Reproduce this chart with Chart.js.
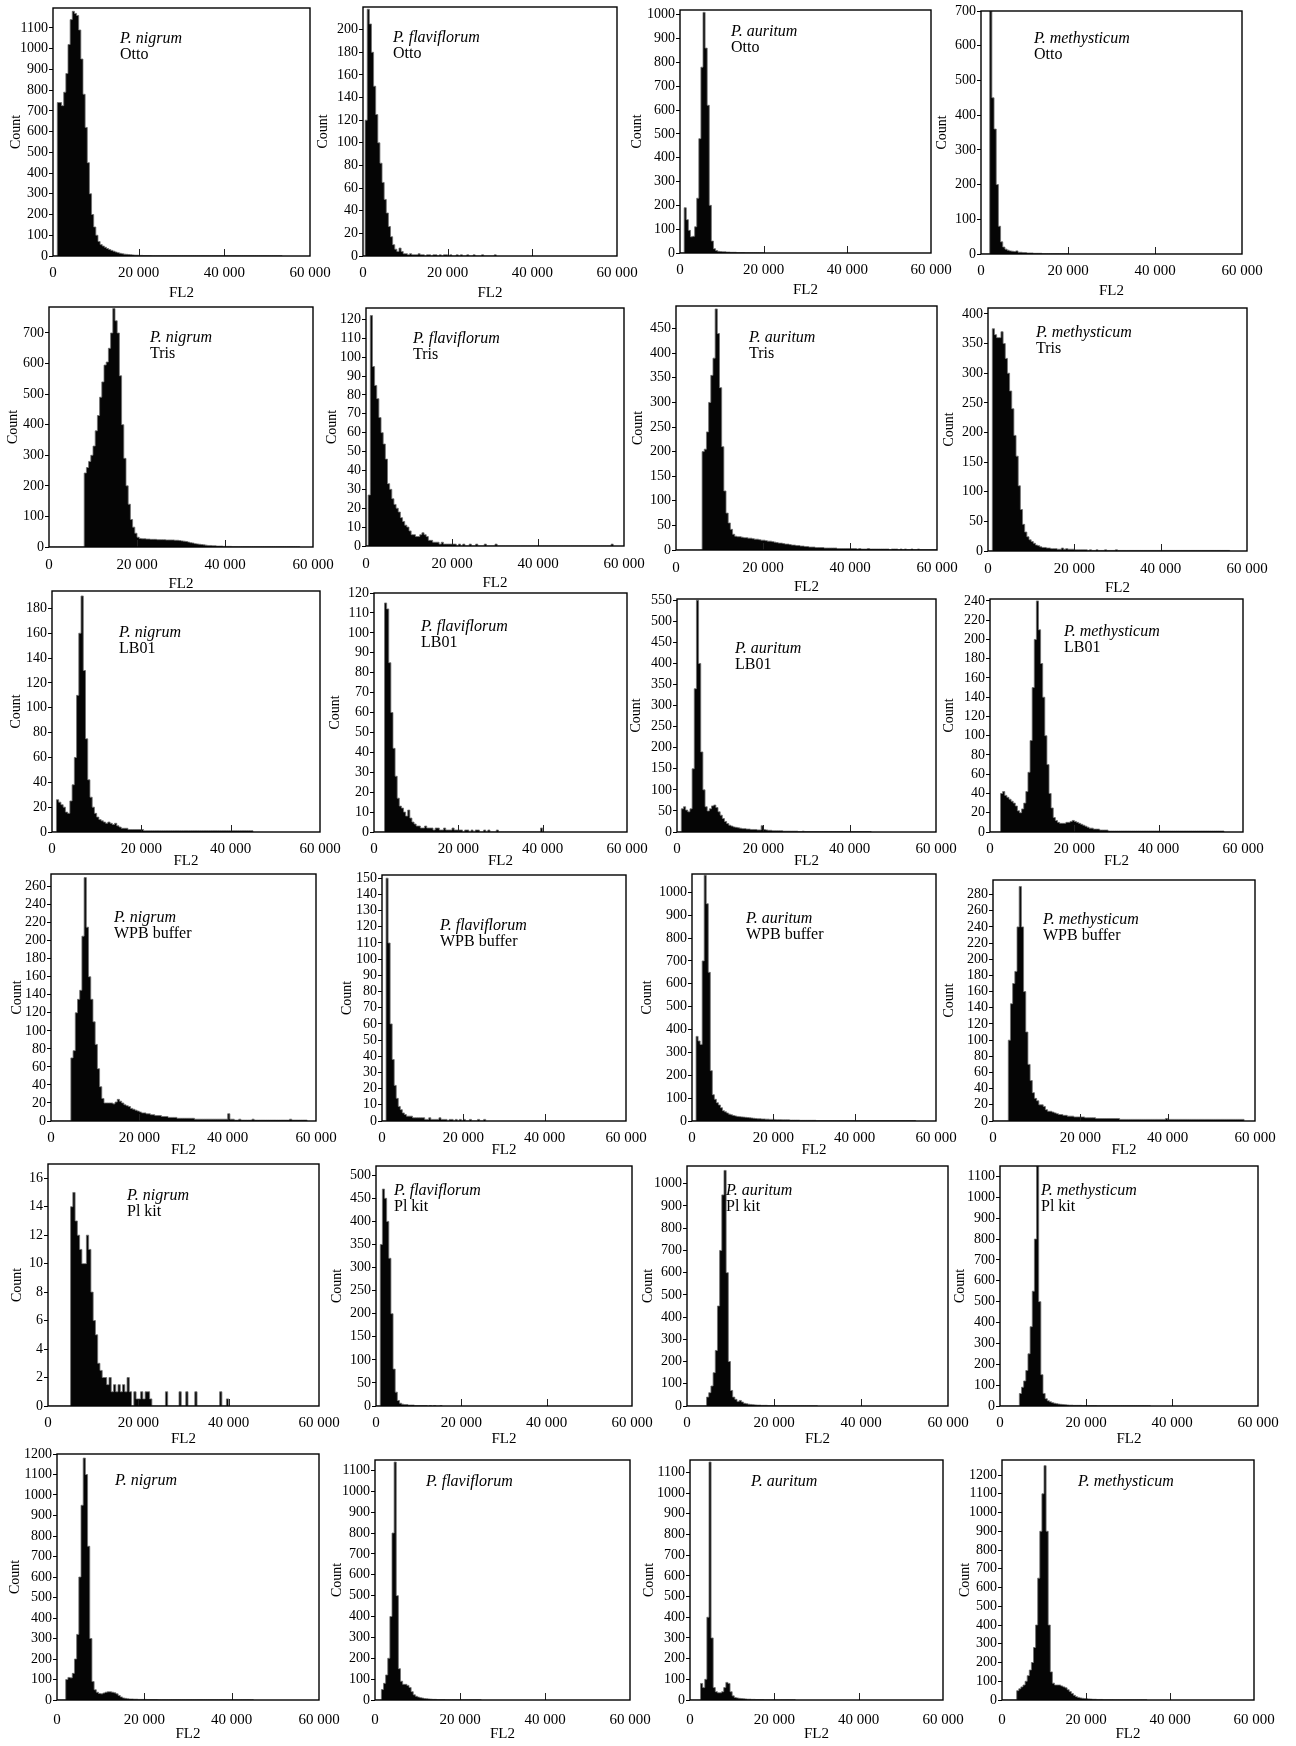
<!DOCTYPE html>
<html><head><meta charset="utf-8">
<script src="https://cdn.jsdelivr.net/npm/chart.js@4/dist/chart.umd.min.js"></script>
<style>
html,body{margin:0;padding:0;background:#fff;}
#wrap{position:relative;width:1296px;height:1746px;overflow:hidden;background:#fff;}
canvas{position:absolute;}
</style></head><body><div id="wrap"></div>
<script>
// ---------- data ----------
const BIN = 500; // FL2 channel width of each histogram bin
const species = ['P. nigrum', 'P. flaviflorum', 'P. auritum', 'P. methysticum'];
const buffers = ['Otto', 'Tris', 'LB01', 'WPB buffer', 'Pl kit', ''];
const xTickValues = [0, 20000, 40000, 60000];
const xTickLabels = ['0', '20 000', '40 000', '60 000'];
const yAxisMax   = [1196, 220, 1020, 700,  785, 126, 496, 410,  194, 120, 553, 242,  274, 152, 1080, 298,  17, 520, 1080, 1150,  1200, 1150, 1160, 1280];
const yTickStep  = [100, 20, 100, 100,  100, 10, 50, 50,  20, 10, 50, 20,  20, 10, 100, 20,  2, 50, 100, 100,  100, 100, 100, 100];
const yTickTop   = [1100, 200, 1000, 700,  700, 120, 450, 400,  180, 120, 550, 240,  260, 150, 1000, 280,  16, 500, 1000, 1100,  1200, 1100, 1100, 1200];

// counts per 500-unit FL2 bin, starting at FL2 = 0
const nigrumOtto = [0,0,740,740,725,790,880,1020,1140,1180,1170,1160,1090,950,780,620,450,300,200,140,100,70,55,48,42,36,31,27,23,19,16,13,11,9,8,7,6,5,4,4,3,3,2,2,2,2,1,1,1,1,1,1,1,1,1,1,1,1,1,1,1,1,1,1,1,1,1,1,1,1,1,1,1,1,1,1,1,1,1,1,1,1,1,1,1,1,1,1,1,1,1,1,1,1,1,1,1,1,1,1,1,1,1,1,1,1,1,0];
const flaviflorumOtto = [0,120,218,205,180,150,125,100,82,65,50,38,26,17,10,6,4,7,4,2,2,1,2,1,1,1,2,1,1,0,1,1,0,1,1,0,1,0,1,1,0,1,0,0,1,0,1,0,0,1,0,0,1,0,0,0,1,0,0,0,0,0,1,0];
const auritumOtto = [0,0,190,140,95,68,70,110,230,480,780,1010,860,620,200,50,18,10,7,6,5,5,4,4,3,3,3,2,2,2,2,1,1,1,1,1,1,1,1,1,0];
const methysticumOtto = [0,0,0,0,700,450,360,200,80,35,20,14,11,9,8,7,9,5,5,4,4,3,3,3,2,2,2,2,1,1,1,1,1,1,1,1,1,1,1,1,0];

const nigrumTris = [0,0,0,0,0,0,0,0,0,0,0,0,0,0,0,0,242,260,280,300,330,380,430,490,540,595,605,650,700,780,740,700,560,400,290,200,140,90,65,45,32,28,27,27,26,26,25,25,25,24,24,24,24,23,23,23,23,22,22,21,20,19,18,16,14,13,11,10,9,8,7,6,5,5,4,4,3,3,3,2,2,2,2,1,1,1,1,1,1,1,1,1,1,1,1,1,1,1,1,1,1,1,1,1,1,1,1,1,1,1,1,1,1,1,0];
const flaviflorumTris = [0,27,122,95,85,78,68,60,54,46,33,30,25,22,20,18,15,13,11,10,8,6,6,5,5,6,7,6,5,3,3,2,2,2,1,2,1,1,1,1,1,1,0,1,0,1,0,0,1,0,0,1,0,0,0,1,0,0,0,0,1,0,0,0,0,0,0,0,0,0,0,0,0,0,0,0,0,0,0,0,0,0,0,0,0,0,0,0,0,0,0,0,0,0,0,0,0,0,0,0,0,0,0,0,0,0,0,0,0,0,0,0,0,0,1,0];
const auritumTris = [0,0,0,0,0,0,0,0,0,0,0,0,200,205,240,300,355,390,490,440,330,210,120,75,55,42,32,28,27,27,26,25,25,24,24,23,22,22,21,20,20,19,18,18,17,16,15,14,14,13,12,12,11,10,10,9,9,8,8,7,7,6,6,6,5,5,5,5,4,4,4,4,4,4,3,3,3,3,3,3,3,3,3,2,3,2,2,2,3,2,2,2,2,2,2,2,2,2,1,2,2,2,1,2,1,2,1,1,2,1,1,2,1,1,1,1,1,1,1,1,0];
const methysticumTris = [0,0,375,365,360,360,370,350,325,300,270,240,195,160,110,70,45,32,24,19,16,13,10,9,7,6,6,5,5,4,4,4,3,3,5,3,4,3,3,3,2,2,2,2,2,2,1,2,1,1,2,1,1,1,2,1,1,1,1,2,1,1,1,1,1,1,1,1,1,1,1,1,1,1,1,1,1,1,1,1,1,1,1,1,1,1,1,1,1,1,1,1,1,1,1,1,1,1,1,1,1,1,1,1,1,1,1,1,1,1,1,1,0];

const nigrumLB01 = [0,0,26,24,22,20,16,15,25,38,60,110,160,190,130,75,42,28,20,15,12,10,9,8,7,8,7,6,7,5,4,3,3,3,2,2,2,2,2,2,2,1,1,1,1,1,1,1,1,1,1,1,1,1,1,1,1,1,1,1,1,1,1,1,1,1,1,1,1,1,1,1,1,1,1,1,1,1,1,1,1,1,1,1,1,1,1,1,1,1,0];
const flaviflorumLB01 = [0,0,0,0,0,115,112,85,60,42,28,17,13,12,10,8,11,7,5,4,3,3,2,2,3,2,2,2,1,2,2,1,1,2,1,1,1,2,1,1,1,1,0,1,1,0,1,0,1,1,0,0,1,0,1,0,0,0,1,0,0,0,0,0,0,0,0,0,0,0,0,0,0,0,0,0,0,0,0,2,0];
const auritumLB01 = [0,0,55,60,52,48,55,150,340,550,400,190,100,60,50,55,62,64,58,48,40,32,25,20,16,14,12,11,10,9,8,8,7,7,6,6,6,5,5,15,6,5,4,4,3,3,3,3,3,2,2,2,2,2,2,2,1,1,2,1,1,1,1,1,1,1,1,1,1,1,1,1,1,1,1,1,1,1,1,1,1,1,1,1,1,1,1,1,1,1,0];
const methysticumLB01 = [0,0,0,0,0,40,42,38,36,34,32,30,27,22,20,24,30,42,62,95,150,200,240,210,175,140,100,70,40,25,15,12,10,9,9,9,10,10,11,12,11,10,9,8,7,6,5,4,4,3,3,3,2,2,2,2,1,1,1,1,1,1,1,1,1,1,1,1,1,1,1,1,1,1,1,1,1,1,1,1,1,1,1,1,1,1,1,1,1,1,1,1,1,1,1,1,1,1,1,1,1,1,1,1,1,1,1,1,1,1,1,0];

const nigrumWPB = [0,0,0,0,0,0,0,0,0,70,78,120,135,145,205,270,215,160,135,110,85,58,38,25,20,20,20,20,19,21,24,22,20,18,17,16,14,13,12,11,10,9,9,8,8,7,7,6,6,6,5,5,5,4,4,4,4,3,3,3,3,3,3,3,3,2,2,2,2,2,2,2,2,2,2,2,2,2,2,2,8,2,2,1,1,2,1,1,1,1,1,2,1,1,1,1,1,1,1,1,1,1,1,1,1,1,1,1,2,1,1,1,1,1,1,1,0];
const flaviflorumWPB = [0,0,150,110,60,38,22,14,9,7,5,4,3,3,3,2,2,2,2,2,2,1,1,2,1,1,1,1,2,1,1,1,0,1,1,0,1,0,1,0,1,0,0,1,0,0,0,1,0,0,1,0];
const auritumWPB = [0,0,370,350,335,700,1075,950,650,220,115,95,80,70,58,45,40,35,30,27,24,22,20,19,18,17,16,15,14,13,12,11,10,10,9,9,8,8,7,7,7,6,6,6,5,5,5,5,4,4,4,4,4,3,3,3,3,3,3,3,3,2,2,2,2,2,2,2,2,2,2,2,2,2,2,2,2,2,2,2,2,2,2,2,2,2,2,2,2,2,2,2,2,2,2,2,2,2,2,2,2,2,2,2,2,2,2,2,2,2,0];
const methysticumWPB = [0,0,0,0,0,0,0,100,145,170,185,240,290,240,160,110,70,50,35,28,25,20,20,18,14,12,12,11,10,9,8,8,7,7,6,6,6,5,5,5,5,5,4,4,4,4,4,3,3,3,3,3,3,3,3,3,3,3,2,2,2,2,2,2,2,2,2,2,2,2,2,2,2,2,2,2,2,2,2,3,2,2,2,2,2,2,2,2,2,2,2,2,2,2,2,2,2,2,2,2,2,2,2,2,2,2,2,2,2,2,2,2,2,2,2,0];

const nigrumPI = [0,0,0,0,0,0,0,0,0,0,14,15,13,12,11,10,10,12,11,8,6,5,3,2.5,2,2,1.5,2,1,1.5,1,1.5,1,1.5,1,2,1,0,1,0.5,0.5,1,0.5,1,1,0.5,0,0,0,0,0,0,1,0,0,0,0,0,1,0,0,1,0,0,0,1,0,0,0,0,0,0,0,0,0,0,1,0,0,0.5,0];
const flaviflorumPI = [0,0,350,470,450,400,320,200,80,30,12,6,4,3,3,2,2,2,1,1,1,1,1,1,0,1,0,1,0,0,1,0];
const auritumPI = [0,0,0,0,0,0,0,0,0,40,60,90,150,250,450,700,950,1060,600,200,70,40,30,20,25,18,12,10,8,7,6,5,4,4,3,3,3,2,2,2,2,1,1,1,1,1,1,1,1,1,1,1,1,1,1,1,1,1,1,1,0];
const methysticumPI = [0,0,0,0,0,0,0,0,0,60,90,120,170,250,380,550,800,1150,500,150,60,35,25,20,16,13,11,9,8,7,6,5,4,4,3,3,3,3,2,2,2,2,2,2,2,1,1,1,1,1,1,1,1,1,1,1,1,1,1,1,1,1,1,1,1,1,1,1,1,1,0];

const nigrumNone = [0,0,0,0,100,110,108,130,200,320,600,950,1180,1100,750,300,90,50,38,32,30,34,38,40,40,38,35,30,22,15,10,8,6,5,5,4,4,3,3,3,3,2,2,2,2,2,1,1,1,1,1,1,1,1,1,1,1,1,1,1,1,1,1,1,1,1,1,1,1,1,1,1,1,1,1,1,1,1,1,1,1,1,1,1,1,1,1,1,1,1,0];
const flaviflorumNone = [0,0,0,50,80,120,200,400,800,1140,500,150,90,75,75,70,60,40,25,18,14,11,9,7,6,5,4,3,3,2,2,2,2,1,1,1,1,1,1,1,1,1,1,1,1,1,1,1,1,1,0];
const auritumNone = [0,0,0,0,0,80,60,100,400,1150,300,60,40,35,35,40,60,85,80,40,20,12,10,8,7,6,5,4,4,3,3,2,2,2,2,1,1,1,1,1,1,1,1,1,1,1,1,1,1,1,0];
const methysticumNone = [0,0,0,0,0,0,0,50,60,70,80,100,130,160,200,280,400,650,900,1100,1250,900,400,150,90,80,80,80,75,70,65,55,45,35,25,18,14,11,9,8,7,6,5,4,4,3,3,3,2,2,2,2,2,1,1,1,1,1,1,1,1,1,1,1,1,1,1,1,1,0];

const seriesList = [
  nigrumOtto, flaviflorumOtto, auritumOtto, methysticumOtto,
  nigrumTris, flaviflorumTris, auritumTris, methysticumTris,
  nigrumLB01, flaviflorumLB01, auritumLB01, methysticumLB01,
  nigrumWPB, flaviflorumWPB, auritumWPB, methysticumWPB,
  nigrumPI, flaviflorumPI, auritumPI, methysticumPI,
  nigrumNone, flaviflorumNone, auritumNone, methysticumNone
];

// ---------- layout (page pixels) ----------
// [plotLeft, plotTop, plotRight, plotBottom, countLabelCenterX, labelX, labelBaselineY]
const layout = [
  [53, 8, 310, 256, 16, 120, 43], [363, 7, 617, 256, 323, 393, 42], [680, 10, 931, 253, 637, 731, 36], [981, 11, 1242, 254, 942, 1034, 43],
  [49, 307, 313, 547, 13, 150, 342], [366, 308, 624, 546, 332, 413, 343], [676, 306, 937, 550, 638, 749, 342], [988, 308, 1247, 551, 949, 1036, 337],
  [52, 591, 320, 832, 16, 119, 637], [374, 593, 627, 832, 335, 421, 631], [677, 599, 936, 832, 636, 735, 653], [990, 599, 1243, 832, 949, 1064, 636],
  [51, 874, 316, 1121, 17, 114, 922], [382, 875, 626, 1121, 347, 440, 930], [692, 874, 936, 1121, 647, 746, 923], [993, 880, 1255, 1121, 949, 1043, 924],
  [48, 1164, 319, 1406, 17, 127, 1200], [376, 1166, 632, 1406, 337, 394, 1195], [687, 1166, 948, 1406, 648, 726, 1195], [1000, 1166, 1258, 1406, 960, 1041, 1195],
  [57, 1454, 319, 1700, 15, 115, 1485], [375, 1460, 630, 1700, 337, 426, 1486], [690, 1460, 943, 1700, 649, 751, 1486], [1002, 1460, 1254, 1700, 965, 1078, 1486]
];
const fl2Offset = [37, 37, 29, 29, 33, 34];
const xLabelPad = [0, 1, 0, 0, 0, 3];

const FONT = "'Liberation Serif', 'DejaVu Serif', serif";
const wrap = document.getElementById('wrap');

function makePanel(i) {
  const [L, T, R, B, cx, lx, ly] = layout[i];
  const row = Math.floor(i / 4), col = i % 4;
  const yW = Math.round(L - cx + 8.4);
  const xH = Math.round(fl2Offset[row] + 9);
  const padTop = 12, padRight = 42;
  const cw = yW + (R - L) + padRight;
  const ch = (B - T) + padTop + xH;
  const left = L - yW, top = T - padTop;
  const cv = document.createElement('canvas');
  cv.width = cw; cv.height = ch;
  cv.style.left = left + 'px'; cv.style.top = top + 'px';
  cv.style.width = cw + 'px'; cv.style.height = ch + 'px';
  wrap.appendChild(cv);

  const counts = seriesList[i];
  const pts = counts.map((v, k) => ({x: k * BIN, y: v}));
  const step = yTickStep[i], topTick = yTickTop[i];
  const yTicks = [];
  for (let v = 0; v <= topTick + 1e-9; v += step) yTicks.push(v);

  const textLines = [species[col], buffers[row]];
  const framePlugin = {
    id: 'frame' + i,
    afterDatasetsDraw(chart) {
      const {ctx, chartArea: a, scales} = chart;
      ctx.save();
      ctx.strokeStyle = '#222'; ctx.lineWidth = 1;
      [20000, 40000].forEach(v => {
        const px = Math.round(scales.x.getPixelForValue(v)) + 0.5;
        ctx.beginPath(); ctx.moveTo(px, a.bottom); ctx.lineTo(px, a.bottom - 7); ctx.stroke();
      });
      ctx.strokeStyle = '#000'; ctx.lineWidth = 1.4;
      ctx.strokeRect(a.left, a.top, a.right - a.left, a.bottom - a.top);
      ctx.fillStyle = '#000'; ctx.textBaseline = 'alphabetic'; ctx.textAlign = 'left';
      ctx.font = 'italic 16px ' + FONT;
      ctx.fillText(textLines[0], lx - left, ly - top);
      if (textLines[1]) {
        ctx.font = '16px ' + FONT;
        ctx.fillText(textLines[1], lx - left, ly - top + 16);
      }
      ctx.restore();
    }
  };

  new Chart(cv, {
    type: 'line',
    data: {
      datasets: [{
        data: pts,
        stepped: 'before',
        fill: 'origin',
        backgroundColor: '#050505',
        borderColor: '#707070',
        borderWidth: 0.8,
        pointRadius: 0,
        tension: 0
      }]
    },
    options: {
      responsive: false,
      animation: false,
      devicePixelRatio: 1,
      events: [],
      layout: {padding: {top: padTop, right: padRight, left: 0, bottom: 0}},
      plugins: {legend: {display: false}, tooltip: {enabled: false}, title: {display: false}},
      scales: {
        x: {
          type: 'linear', min: 0, max: 60000,
          afterBuildTicks: s => { s.ticks = xTickValues.map(v => ({value: v})); },
          afterFit: s => { s.height = xH; },
          grid: {display: false},
          border: {display: false},
          ticks: {
            autoSkip: false, maxRotation: 0, padding: xLabelPad[row], color: '#000',
            font: {family: FONT, size: 15},
            callback: v => xTickLabels[xTickValues.indexOf(v)]
          },
          title: {display: true, text: 'FL2', color: '#000', font: {family: FONT, size: 15, lineHeight: 1.2}, padding: 0}
        },
        y: {
          type: 'linear', min: 0, max: yAxisMax[i],
          afterBuildTicks: s => { s.ticks = yTicks.map(v => ({value: v})); },
          afterFit: s => { s.width = yW; },
          grid: {display: true, drawOnChartArea: false, drawTicks: true, tickLength: 4, color: '#000', lineWidth: 1},
          border: {display: false},
          ticks: {
            autoSkip: false, padding: 1, color: '#000', font: {family: FONT, size: 14},
            callback: v => String(v)
          },
          title: {display: true, text: 'Count', color: '#000', font: {family: FONT, size: 14, lineHeight: 1.2}, padding: 0}
        }
      }
    },
    plugins: [framePlugin]
  });
}

for (let i = 0; i < 24; i++) makePanel(i);
</script>
</body></html>
